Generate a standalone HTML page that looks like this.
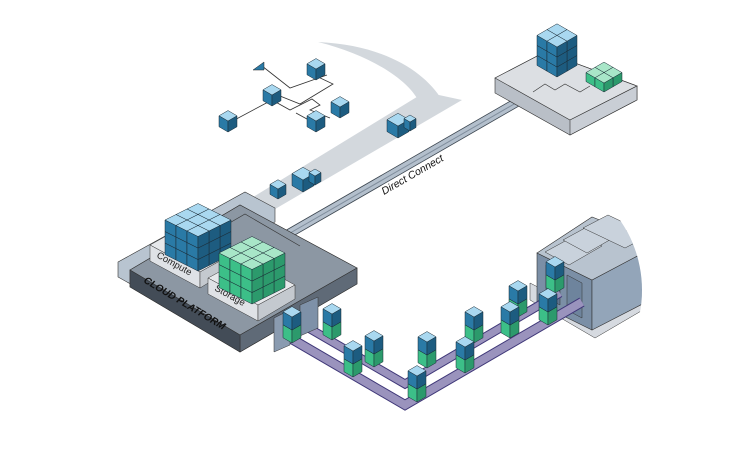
<!DOCTYPE html>
<html><head><meta charset="utf-8"><style>
html,body{margin:0;padding:0;background:#fff;width:750px;height:460px;overflow:hidden}
svg{display:block}
</style></head><body>
<svg id="s" width="750" height="460" viewBox="0 0 750 460" xmlns="http://www.w3.org/2000/svg" font-family="Liberation Sans, sans-serif">
<defs><clipPath id="dc"><circle cx="520" cy="290" r="122"/></clipPath></defs>
<path d="M318,42 C385,45 425,72 442,100 L420,104 C410,80 370,55 318,42Z" fill="#d3d8dd"/>
<path d="M425,92 L462,100 L270,212 L240,205 Z" fill="#d3d8dd"/>
<g stroke="#333" stroke-width="0.8" fill="none">
<polyline points="262,66 290,88 327,75"/>
<polyline points="316,76 333,84 300,104 270,92"/>
<polyline points="227,124 272,100 290,110 312,99 320,105 310,110 330,118"/>
<polyline points="296,113 316,124"/>
</g>
<polygon points="253,70 264,62 264,70" fill="#2a7aa6" stroke="#222" stroke-width="0.5"/>
<g id="cubes"></g>
<polygon points="283,232 533,88 538,95 288,239" fill="#b3bfcc" stroke="#3c4650" stroke-width="0.8"/>
<line x1="285" y1="236" x2="535" y2="92" stroke="#7f8d9c" stroke-width="1"/>
<text x="0" y="0" font-size="10.5" font-style="italic" fill="#111" transform="translate(384,195) rotate(-30)">Direct Connect</text>
<polygon points="495,78 545,52 637,86 637,100 570,135 495,93" fill="#b9bfc7" stroke="#333" stroke-width="0.6"/>
<polygon points="495,78 545,52 637,86 570,120" fill="#dcdfe3" stroke="#333" stroke-width="0.6"/>
<polygon points="570,120 637,86 637,100 570,135" fill="#c9ced5" stroke="#333" stroke-width="0.6"/>
<polyline points="533,92 545,84 555,90 565,84 580,92 590,86" stroke="#333" stroke-width="0.6" fill="none"/>
<polygon points="118,262 245,192 275,208 275,222 145,292 118,277" fill="#b8c4d0" stroke="#333" stroke-width="0.6"/>
<polygon points="130,270 240,205 357,268 357,284 240,352 130,287" fill="#3f4852" stroke="#333" stroke-width="0.6"/>
<polygon points="130,270 240,205 357,268 240,335" fill="#8c97a3" stroke="#333" stroke-width="0.6"/>
<polygon points="240,335 357,268 357,284 240,352" fill="#5f6a77" stroke="#333" stroke-width="0.6"/>
<polygon points="240,335 130,270 130,287 240,352" fill="#434c57" stroke="#333" stroke-width="0.6"/>
<polyline points="183,250 245,214 300,246" stroke="#333" stroke-width="0.6" fill="none"/>
<text font-size="10" font-weight="bold" font-style="italic" fill="#111" transform="translate(143,282) rotate(31)">CLOUD PLATFORM</text>
<polygon points="150,245 186,225 236,252 200,272" fill="#e6e8eb" stroke="#333" stroke-width="0.5"/>
<polygon points="150,245 200,272 200,288 150,261" fill="#dfe2e6" stroke="#333" stroke-width="0.5"/>
<polygon points="200,272 236,252 236,266 200,288" fill="#c4c9cf" stroke="#333" stroke-width="0.5"/>
<text font-size="9.5" fill="#222" transform="translate(156,257) rotate(29)">Compute</text>
<polygon points="208,278 245,258 295,285 258,305" fill="#e6e8eb" stroke="#333" stroke-width="0.5"/>
<polygon points="208,278 258,305 258,321 208,294" fill="#dfe2e6" stroke="#333" stroke-width="0.5"/>
<polygon points="258,305 295,285 295,299 258,321" fill="#c4c9cf" stroke="#333" stroke-width="0.5"/>
<text font-size="9.5" fill="#222" transform="translate(214,290) rotate(29)">Storage</text>
<g id="stacks"></g>
<g clip-path="url(#dc)">
<polygon points="530,283 592,315 660,280 660,300 595,338 530,300" fill="#d6dae0" stroke="#333" stroke-width="0.5"/>
<polygon points="537,253 592,280 592,330 537,303" fill="#7b8fa6" stroke="#333" stroke-width="0.6"/>
<polygon points="592,280 660,244 660,295 592,330" fill="#93a5b9" stroke="#333" stroke-width="0.6"/>
<polygon points="537,253 592,217 660,244 592,280" fill="#b8c3cf" stroke="#333" stroke-width="0.6"/>
<polygon points="545,252 578,234 602,246 569,265" fill="#c9d2dc" stroke="#333" stroke-width="0.5"/>
<polygon points="563,240 596,222 620,234 587,253" fill="#c9d2dc" stroke="#333" stroke-width="0.5"/>
<polygon points="583,228 608,215 650,235 625,248" fill="#c9d2dc" stroke="#333" stroke-width="0.5"/>
<polygon points="546,265 560,272 560,305 546,298" fill="#5f7590" stroke="#333" stroke-width="0.5"/>
<polygon points="567,275 582,283 582,318 567,310" fill="#6e849d" stroke="#333" stroke-width="0.5"/>
</g>
<g fill="none" stroke-linejoin="miter">
<polyline points="290,338 405,405 582,302" stroke="#3f3778" stroke-width="10"/>
<polyline points="290,338 405,405 582,302" stroke="#9a93bd" stroke-width="8"/>
<polyline points="305,326 405,384 560,293" stroke="#3f3778" stroke-width="9"/>
<polyline points="305,326 405,384 560,293" stroke="#9a93bd" stroke-width="7"/>
</g>
<polygon points="274,318 290,310 290,345 274,352" fill="#8a9bb0" stroke="#333" stroke-width="0.5"/>
<polygon points="300,305 318,297 318,328 300,336" fill="#7e91a8" stroke="#333" stroke-width="0.5"/>
<g id="belt"></g>
</svg>
<script>
var R=0.58;
function cube(x,y,w,h,c){var q=w*R;
return '<g stroke="#1a2a35" stroke-width="0.5">'+
'<polygon fill="'+c[1]+'" points="'+(x-w)+','+(y-q)+' '+x+','+y+' '+x+','+(y-h)+' '+(x-w)+','+(y-q-h)+'"/>'+
'<polygon fill="'+c[2]+'" points="'+x+','+y+' '+(x+w)+','+(y-q)+' '+(x+w)+','+(y-q-h)+' '+x+','+(y-h)+'"/>'+
'<polygon fill="'+c[0]+'" points="'+x+','+(y-h)+' '+(x+w)+','+(y-q-h)+' '+x+','+(y-2*q-h)+' '+(x-w)+','+(y-q-h)+'"/></g>';}
var B=['#a9d8f0','#2a7aa6','#1d5c80'],G=['#a8e6c8','#3cbf88','#2c9a6c'];
var o='';
[[316,80],[272,106],[228,132],[340,118],[316,132]].forEach(function(p){o+=cube(p[0],p[1],9,11,B)});
o+=cube(398,138,11,12,B)+cube(410,131,6,9,B);
o+=cube(303,192,11,12,B)+cube(315,185,6,9,B);
o+=cube(278,199,8,10,B);
document.getElementById('cubes').innerHTML=o;
function stack(fx,fy,w,h,C,n,m,l){var q=w*R,s='';
var ox=fx+(m-1-(n-1))*w, oy=fy-((n-1)+(m-1))*q;
for(var k=0;k<l;k++)for(var i=0;i<n;i++)for(var j=0;j<m;j++){
var x=ox+(i-j)*w,y=oy+(i+j)*q-k*h;s+=cube(x,y,w,h,C);}return s;}
var s='';
R=0.5;
s+=stack(198,271,11,11.5,B,3,3,3);
s+=stack(252,304,11,11.5,G,3,3,3);
R=0.58;
s+=stack(557,77,10,10,B,2,2,3);
s+=stack(604,92,9,9,G,2,2,1);
document.getElementById('stacks').innerHTML=s;
var b='';
[[292,343],[332,340],[374,367],[353,377],[427,368],[474,343],[417,402],[465,373],[518,317],[510,338],[555,293],[548,325]].forEach(function(p){
b+=cube(p[0],p[1],9,13,G)+cube(p[0],p[1]-13,9,13,B);});
document.getElementById('belt').innerHTML=b;
</script>
</body></html>
